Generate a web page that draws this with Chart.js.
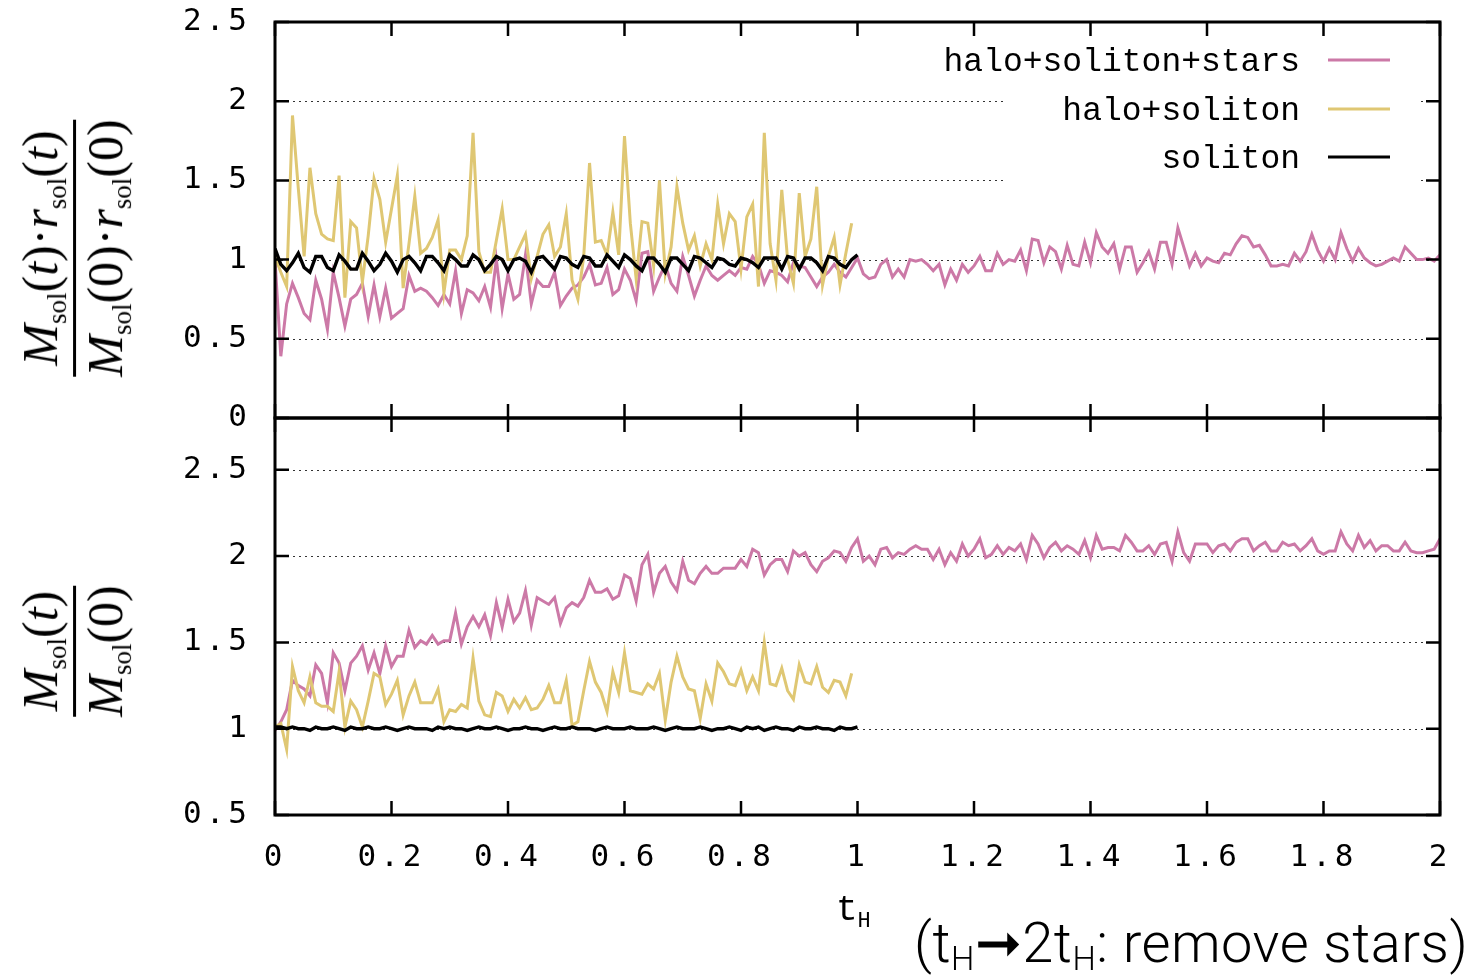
<!DOCTYPE html>
<html>
<head>
<meta charset="utf-8">
<script src="https://cdn.jsdelivr.net/npm/chart.js@4.4.1/dist/chart.umd.min.js"></script>
<style>
  body { margin: 0; background: #fff; }
  #wrap { position: relative; width: 1481px; height: 978px; overflow: hidden; background: #fff; }
  canvas { position: absolute; left: 0; }
  #c-top { top: 0; }
  #c-bot { top: 396px; }
  .ylab {
    position: absolute;
    transform: translate(-50%, -50%) rotate(-90deg);
    font-family: "Liberation Serif", "DejaVu Serif", serif;
    font-size: 50px;
    color: #000;
    white-space: nowrap;
    z-index: 2;
  }
  .frac { display: flex; flex-direction: column; align-items: center; }
  .frac .bar { align-self: stretch; height: 3px; background: #000; margin: 2px 0 4px 0; }
  .frac .num, .frac .den { line-height: 1.0; }
  .frac sub { font-size: 27px; vertical-align: -0.35em; font-style: normal; }
  #xlab {
    position: absolute; left: 836px; top: 890px;
    font-family: "Liberation Mono", monospace; font-size: 36px; color: #000; z-index: 2;
  }
  #xlab sub { font-size: 22px; vertical-align: -0.3em; }
  #note {
    position: absolute; left: 914px; top: 910px;
    font-family: Roboto, "Liberation Sans", sans-serif; font-weight: 300;
    font-size: 56px; letter-spacing: 0.5px; color: #000; white-space: nowrap; z-index: 2;
  }
  #note sub { font-size: 33px; vertical-align: -0.25em; }
</style>
</head>
<body>
<div id="wrap">
  <canvas id="c-top" width="1481" height="440"></canvas>
  <canvas id="c-bot" width="1481" height="582"></canvas>

  <div class="ylab" style="left:76px; top:248px;">
    <div class="frac">
      <div class="num"><i>M</i><sub>sol</sub>(<i>t</i>)&middot;<i>r</i><sub>sol</sub>(<i>t</i>)</div>
      <div class="bar"></div>
      <div class="den"><i>M</i><sub>sol</sub>(0)&middot;<i>r</i><sub>sol</sub>(0)</div>
    </div>
  </div>
  <div class="ylab" style="left:76px; top:651px;">
    <div class="frac">
      <div class="num"><i>M</i><sub>sol</sub>(<i>t</i>)</div>
      <div class="bar"></div>
      <div class="den"><i>M</i><sub>sol</sub>(0)</div>
    </div>
  </div>

  <div id="xlab">t<sub>H</sub></div>
  <div id="note">(t<sub>H</sub>&#10142;2t<sub>H</sub>: remove stars)</div>
</div>

<script>
// ==========================================================================
// Data (one sample every 0.01 t_H)
// ==========================================================================
const tStep = 0.01;
const xTickValues = [0, 0.2, 0.4, 0.6, 0.8, 1, 1.2, 1.4, 1.6, 1.8, 2];
const seriesLabels = ['halo+soliton+stars', 'halo+soliton', 'soliton'];
const seriesColors = ['#cc79a7', '#dfc773', '#000000'];

// top panel: M_sol(t) r_sol(t) / M_sol(0) r_sol(0)
const topStars = [
  1.00,0.39,0.72,0.85,0.76,0.66,0.62,0.87,0.75,0.56,
  0.92,0.76,0.58,0.75,0.78,0.85,0.64,0.84,0.64,0.82,
  0.63,0.66,0.69,0.90,0.80,0.82,0.80,0.76,0.71,0.78,
  0.72,0.93,0.66,0.81,0.79,0.74,0.83,0.70,1.00,0.69,
  0.91,0.75,0.78,1.03,0.72,0.87,0.83,0.83,0.92,0.71,
  0.77,0.82,0.84,0.89,0.97,0.84,0.85,0.95,0.78,0.81,
  0.94,0.87,0.74,1.04,1.05,0.80,0.89,0.97,0.85,0.80,
  1.02,0.90,0.77,0.87,0.96,0.90,0.87,0.90,0.93,0.90,
  0.95,0.94,1.02,0.97,0.85,0.93,0.92,0.90,0.86,0.98,
  0.96,0.95,0.89,0.83,0.89,0.92,0.97,0.92,0.89,0.95,
  1.01,0.91,0.88,0.89,0.97,1.00,0.89,0.94,0.89,1.00,
  0.99,1.00,0.97,0.93,0.97,0.84,0.94,0.87,0.97,0.92,
  0.96,1.02,0.93,0.93,1.04,0.97,1.00,0.99,1.06,0.93,
  1.13,1.12,0.98,1.08,1.05,0.94,1.09,0.97,0.96,1.11,
  0.98,1.17,1.08,1.04,1.10,0.94,1.08,1.08,0.92,0.98,
  1.05,0.94,1.11,1.11,0.97,1.20,1.08,0.96,1.04,0.96,
  1.01,0.99,0.98,1.04,1.03,1.10,1.15,1.14,1.08,1.09,
  1.03,0.96,0.96,0.97,0.96,1.04,0.99,1.05,1.16,1.06,
  0.99,1.07,1.00,1.17,1.07,0.99,1.07,1.01,0.98,0.96,
  0.97,0.99,1.01,0.99,1.08,1.04,1.00,1.00,1.01,0.99,
  1.03
];
const topHalo = [
  1.02,0.92,0.83,1.91,1.45,1.02,1.58,1.29,1.16,1.13,
  1.12,1.53,0.76,1.24,1.20,0.86,1.15,1.51,1.38,1.11,
  1.32,1.53,0.82,1.10,1.40,1.04,1.07,1.14,1.25,0.79,
  1.06,1.06,1.00,1.15,1.80,1.05,0.92,0.92,1.12,1.32,
  1.00,1.00,1.08,1.16,0.88,1.02,1.16,1.22,1.02,1.08,
  1.29,0.87,0.75,1.02,1.61,1.11,1.12,1.03,1.30,1.03,
  1.78,1.23,0.88,1.24,1.23,0.96,1.50,0.91,1.08,1.46,
  1.23,1.06,1.15,0.96,1.10,1.00,1.35,1.10,1.29,1.24,
  0.94,1.27,1.35,0.83,1.80,1.10,0.87,1.44,1.00,0.85,
  1.42,1.02,1.13,1.46,0.84,1.02,1.14,0.84,1.04,1.23
];
const topSoliton = [
  1.07,0.97,0.93,0.98,1.04,0.95,0.92,1.02,1.02,0.95,
  0.93,1.03,0.99,0.94,0.94,1.04,0.99,0.93,0.97,1.04,
  0.99,0.92,1.00,1.02,0.98,0.93,1.02,1.02,0.98,0.93,
  1.03,1.00,0.96,0.96,1.03,1.00,0.93,0.97,1.02,1.00,
  0.93,1.00,1.01,0.99,0.92,1.01,1.02,0.98,0.94,1.02,
  1.01,0.97,0.95,1.02,1.01,0.96,0.96,1.03,0.99,0.95,
  1.03,1.00,0.96,0.93,1.01,1.01,0.97,0.92,1.01,1.01,
  0.97,0.93,1.02,1.01,0.98,0.95,1.01,1.00,0.97,0.96,
  1.01,1.00,0.98,0.95,1.01,1.01,1.01,0.94,1.02,1.01,
  0.94,1.01,1.01,0.98,0.93,1.02,1.01,0.97,0.95,1.00,
  1.03
];

// bottom panel: M_sol(t) / M_sol(0)
const botStars = [
  0.99,1.04,1.11,1.28,1.25,1.23,1.19,1.37,1.32,1.15,
  1.44,1.38,1.22,1.38,1.42,1.48,1.34,1.44,1.32,1.48,
  1.36,1.42,1.42,1.57,1.47,1.51,1.49,1.54,1.49,1.51,
  1.51,1.67,1.49,1.59,1.65,1.59,1.66,1.54,1.73,1.59,
  1.75,1.62,1.67,1.80,1.60,1.76,1.74,1.72,1.76,1.61,
  1.70,1.73,1.71,1.76,1.86,1.79,1.79,1.81,1.75,1.77,
  1.89,1.87,1.74,1.95,2.01,1.79,1.90,1.94,1.85,1.80,
  1.97,1.86,1.84,1.90,1.94,1.90,1.90,1.93,1.93,1.93,
  1.98,1.94,2.04,2.02,1.89,1.95,1.98,1.98,1.91,2.03,
  2.00,2.02,1.95,1.91,1.97,1.99,2.03,2.02,1.97,2.05,
  2.10,1.97,2.00,1.95,2.04,2.05,1.99,2.02,2.01,2.04,
  2.06,2.04,2.04,1.98,2.04,1.95,2.02,1.97,2.07,2.00,
  2.04,2.10,1.99,2.01,2.06,2.01,2.05,2.03,2.07,1.98,
  2.12,2.07,1.99,2.05,2.08,2.03,2.06,2.04,2.01,2.09,
  1.99,2.12,2.04,2.05,2.05,2.03,2.12,2.08,2.03,2.03,
  2.06,2.01,2.07,2.08,1.97,2.14,2.02,1.97,2.07,2.07,
  2.07,2.02,2.06,2.07,2.03,2.08,2.10,2.10,2.03,2.06,
  2.08,2.03,2.03,2.08,2.06,2.07,2.03,2.06,2.10,2.03,
  2.01,2.03,2.03,2.14,2.07,2.03,2.12,2.05,2.09,2.03,
  2.06,2.06,2.03,2.03,2.08,2.03,2.02,2.02,2.03,2.04,
  2.10
];
const botHalo = [
  1.01,1.03,0.88,1.36,1.22,1.15,1.30,1.15,1.13,1.13,
  1.10,1.33,1.01,1.16,1.11,1.01,1.16,1.32,1.30,1.14,
  1.20,1.28,1.08,1.19,1.27,1.15,1.15,1.15,1.23,1.04,
  1.11,1.10,1.14,1.12,1.41,1.16,1.08,1.07,1.21,1.19,
  1.10,1.17,1.12,1.18,1.11,1.12,1.17,1.25,1.15,1.15,
  1.28,1.02,1.04,1.22,1.39,1.27,1.21,1.10,1.33,1.21,
  1.44,1.22,1.21,1.20,1.26,1.23,1.32,1.05,1.27,1.42,
  1.30,1.23,1.22,1.06,1.26,1.16,1.38,1.33,1.26,1.25,
  1.34,1.22,1.30,1.22,1.50,1.26,1.25,1.35,1.22,1.17,
  1.37,1.27,1.26,1.36,1.24,1.21,1.28,1.27,1.19,1.32
];
const botSoliton = [
  1.01,1.01,1.00,1.01,1.00,1.00,0.99,1.01,1.00,1.00,
  1.01,1.00,0.99,1.01,1.00,1.00,1.01,1.00,1.00,1.01,
  1.00,0.99,1.00,1.01,1.00,1.00,1.00,0.99,1.01,1.00,
  1.01,1.00,1.00,0.99,1.00,1.01,1.00,1.00,1.01,1.00,
  0.99,1.00,1.00,1.01,1.00,1.00,0.99,1.00,1.01,1.00,
  1.00,1.01,1.00,1.00,1.00,0.99,1.00,1.01,1.00,1.00,
  1.00,1.01,1.00,1.00,1.00,1.01,1.00,0.99,1.00,1.01,
  1.00,1.00,1.00,1.01,1.00,0.99,1.00,1.00,1.01,1.00,
  0.99,1.01,1.00,1.01,0.99,1.00,1.01,1.00,1.00,0.99,
  1.01,1.00,1.00,1.01,1.00,1.00,0.99,1.01,1.00,1.00,
  1.01
];

// ==========================================================================
// Helpers
// ==========================================================================
const tickFont = { family: '"DejaVu Sans Mono", monospace', size: 31 };
const fmt = v => String(+Number(v).toFixed(2));
const toPoints = values => values.map((v, i) => ({ x: i * tStep, y: v }));

function makeDatasets(stars, halo, soliton) {
  return [stars, halo, soliton].map((vals, k) => ({
    label: seriesLabels[k],
    data: toPoints(vals),
    borderColor: seriesColors[k],
    borderWidth: k === 2 ? 3.4 : 3,
    pointRadius: 0,
    tension: 0,
    order: 3 - k   // soliton drawn last (on top), like gnuplot
  }));
}

// gnuplot-like frame: dotted grid, border box, inward ticks on all sides
const gnuFrame = {
  id: 'gnuFrame',
  beforeDatasetsDraw(chart) {
    const { ctx, chartArea: a, scales: { y } } = chart;
    ctx.save();
    ctx.strokeStyle = '#333';
    ctx.lineWidth = 1.2;
    ctx.setLineDash([2, 4]);
    y.ticks.forEach(t => {
      const py = Math.round(y.getPixelForValue(t.value)) + 0.5;
      if (py <= a.top + 2 || py >= a.bottom - 2) return;
      ctx.beginPath();
      ctx.moveTo(a.left, py);
      ctx.lineTo(a.right, py);
      ctx.stroke();
    });
    ctx.restore();
  },
  afterDatasetsDraw(chart) {
    const { ctx, chartArea: a, scales: { x, y } } = chart;
    const tl = 14;
    ctx.save();
    ctx.strokeStyle = '#000';
    ctx.lineWidth = 2.5;
    ctx.beginPath();
    y.ticks.forEach(t => {
      const py = y.getPixelForValue(t.value);
      ctx.moveTo(a.left, py); ctx.lineTo(a.left + tl, py);
      ctx.moveTo(a.right, py); ctx.lineTo(a.right - tl, py);
    });
    xTickValues.forEach(v => {
      const px = x.getPixelForValue(v);
      ctx.moveTo(px, a.top); ctx.lineTo(px, a.top + tl);
      ctx.moveTo(px, a.bottom); ctx.lineTo(px, a.bottom - tl);
    });
    ctx.stroke();
    ctx.lineWidth = 3;
    ctx.strokeRect(a.left, a.top, a.right - a.left, a.bottom - a.top);
    ctx.restore();
  }
};

// key box in the top panel (text right-aligned, sample to the right)
const gnuKey = {
  id: 'gnuKey',
  beforeDatasetsDraw(chart) {
    const { ctx } = chart;
    ctx.save();
    ctx.fillStyle = '#fff';
    ctx.fillRect(1003, 36, 415, 150);
    ctx.restore();
  },
  afterDatasetsDraw(chart) {
    const { ctx } = chart;
    const rows = [60, 109, 157];
    ctx.save();
    ctx.letterSpacing = '0px';
    ctx.font = '33px "Liberation Mono", monospace';
    ctx.textAlign = 'right';
    ctx.textBaseline = 'middle';
    ctx.fillStyle = '#000';
    chart.data.datasets.forEach((ds, k) => {
      ctx.fillText(ds.label, 1300, rows[k] + 2);
      ctx.strokeStyle = ds.borderColor;
      ctx.lineWidth = 3;
      ctx.beginPath();
      ctx.moveTo(1328, rows[k]);
      ctx.lineTo(1390, rows[k]);
      ctx.stroke();
    });
    ctx.restore();
  }
};

// wide monospace look of gnuplot tick labels
const spacedTicks = {
  id: 'spacedTicks',
  beforeDraw(chart) { chart.ctx.letterSpacing = '4px'; }
};

function yAxis(min, max) {
  return {
    type: 'linear',
    min, max,
    position: 'left',
    grid: { display: false, drawTicks: false },
    border: { display: false },
    ticks: { stepSize: 0.5, font: tickFont, color: '#000', padding: 24, callback: fmt },
    afterFit: s => { s.width = 275; s.paddingTop = 0; s.paddingBottom = 0; },
    afterBuildTicks: s => { s.ticks = s.ticks.filter(t => t.value <= 2.5 + 1e-9); }
  };
}

const common = {
  responsive: false,
  animation: false,
  events: [],
  plugins: { legend: { display: false }, tooltip: { enabled: false } }
};

// ==========================================================================
// Top panel
// ==========================================================================
new Chart(document.getElementById('c-top'), {
  type: 'line',
  data: { datasets: makeDatasets(topStars, topHalo, topSoliton) },
  options: {
    ...common,
    layout: { padding: { top: 22, right: 41, bottom: 22, left: 0 } },
    scales: {
      x: { type: 'linear', min: 0, max: 2, display: false },
      y: yAxis(0, 2.5)
    }
  },
  plugins: [spacedTicks, gnuFrame, gnuKey]
});

// ==========================================================================
// Bottom panel
// ==========================================================================
new Chart(document.getElementById('c-bot'), {
  type: 'line',
  data: { datasets: makeDatasets(botStars, botHalo, botSoliton) },
  options: {
    ...common,
    layout: { padding: { top: 22, right: 41, bottom: 93, left: 0 } },
    scales: {
      x: {
        type: 'linear', min: 0, max: 2,
        grid: { display: false, drawTicks: false },
        border: { display: false },
        ticks: { stepSize: 0.2, font: tickFont, color: '#000', padding: 24,
                 maxRotation: 0, autoSkip: false, callback: fmt },
        afterFit: s => { s.height = 70; s.paddingLeft = 0; s.paddingRight = 0; }
      },
      y: yAxis(0.5, 2.8)
    }
  },
  plugins: [spacedTicks, gnuFrame]
});
</script>
</body>
</html>
